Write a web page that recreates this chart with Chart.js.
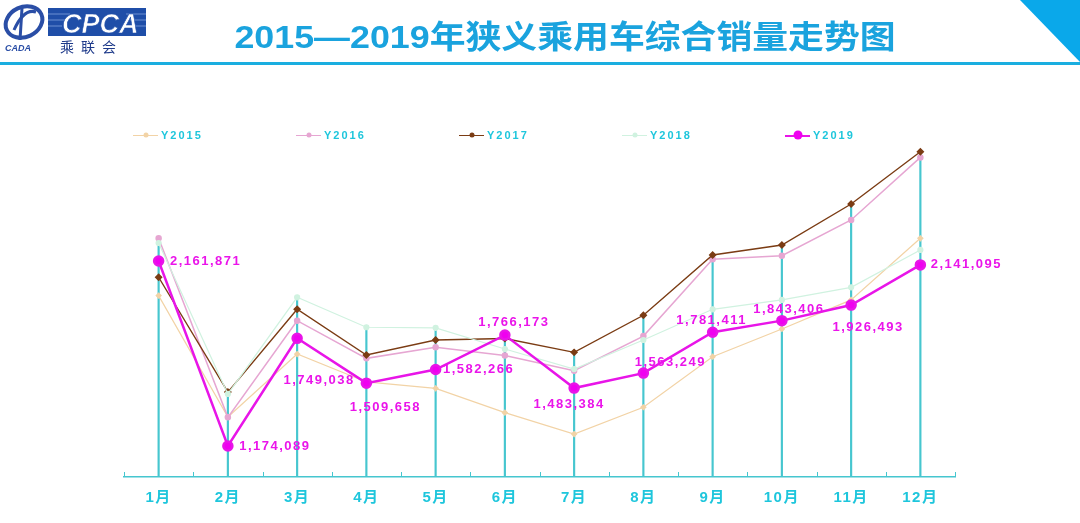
<!DOCTYPE html>
<html>
<head>
<meta charset="utf-8">
<script src="https://cdn.jsdelivr.net/npm/chart.js@4"></script>
<style>
  body { margin: 0; background: #fff; }
  .page { position: relative; width: 1080px; height: 523px; overflow: hidden; background: #fff; font-family: "Liberation Sans", Arial, sans-serif; }
  .page canvas { position: absolute; left: 0; top: 0; }
  .title { position: absolute; left: 565px; top: 11px; transform: translateX(-50%) scaleX(1.12); white-space: nowrap;
           font: bold 32px "Liberation Sans", "Noto Sans CJK SC", sans-serif; color: #1aa3de; }
  .rule { position: absolute; left: 0; top: 62px; width: 1080px; height: 3px; background: #1aaee0; }
  .corner { position: absolute; right: 0; top: 0; width: 0; height: 0; border-top: 62px solid #0aa8ea; border-left: 60px solid transparent; }
  .logo { position: absolute; left: 0; top: 0; }
  .legend { position: absolute; top: 128px; left: 133px; display: flex; }
  .legend .item { width: 163px; display: flex; align-items: center; }
  .legend .sym { position: relative; width: 25px; height: 14px; }
  .legend .sym i { position: absolute; left: 0; right: 0; top: 6.5px; height: 0; border-top: 1.5px solid; }
  .legend .sym b { position: absolute; left: 50%; top: 7px; border-radius: 50%; transform: translate(-50%, -50%); }
  .legend span { margin-left: 3px; font: bold 11px "Liberation Sans", Arial, sans-serif; letter-spacing: 2px; color: #1ec6dc; }
</style>
</head>
<body>
<div class="page">
  <canvas id="chart" width="1080" height="523"></canvas>
  <svg class="logo" width="160" height="60">
    <ellipse cx="24" cy="22" rx="19" ry="15" fill="none" stroke="#2a4ea6" stroke-width="4" transform="rotate(-25 24 22)"/>
    <path d="M14 30 Q24 8 36 12" fill="none" stroke="#2a4ea6" stroke-width="3"/>
    <path d="M22 8 L20 40" stroke="#2a4ea6" stroke-width="3"/>
    <text x="5" y="51" font-family="Liberation Sans" font-weight="bold" font-style="italic" font-size="9" fill="#2a4ea6">CADA</text>
    <rect x="48" y="8" width="98" height="28" fill="#1f4ea8"/>
    <path d="M48 14 H70 M48 20 H66 M48 26 H62 M126 14 H146 M130 20 H146 M134 26 H146" stroke="#6d8fd2" stroke-width="1"/>
    <text x="62" y="33" font-family="Liberation Sans" font-weight="bold" font-style="italic" font-size="27" fill="#fff" stroke="#1f4ea8" stroke-width="0.6">CPCA</text>
    <text x="60" y="52" font-family="Noto Sans CJK SC" font-size="14" fill="#1e3a8a" letter-spacing="7">乘联会</text>
  </svg>
  <div class="title">2015—2019年狭义乘用车综合销量走势图</div>
  <div class="rule"></div>
  <div class="corner"></div>
  <div class="legend" id="legend"></div>
</div>
<script>
const months = ['1月', '2月', '3月', '4月', '5月', '6月', '7月', '8月', '9月', '10月', '11月', '12月'];
const y2015 = [1977000, 1329000, 1665000, 1516000, 1482000, 1352000, 1238000, 1381000, 1651000, 1799000, 1954000, 2283000];
const y2016 = [2283000, 1327000, 1843000, 1642000, 1701000, 1657000, 1576000, 1761000, 2171000, 2190000, 2381000, 2715000];
const y2017 = [2075000, 1462000, 1904000, 1660000, 1740000, 1748000, 1674000, 1872000, 2194000, 2247000, 2466000, 2745000];
const y2018 = [2258000, 1452000, 1968000, 1808000, 1805000, 1692000, 1585000, 1740000, 1904000, 1954000, 2021000, 2221000];
const y2019 = [2161871, 1174089, 1749038, 1509658, 1582266, 1766173, 1483384, 1563249, 1781411, 1843406, 1926493, 2141095];

// where each Y2019 label sits relative to its point (dx, dy)
const labelShift = [[47, 0], [47, 0], [22, 42], [19, 24], [43, 0], [9, -13], [-5, 16], [27, -11], [-1, -12], [7, -11], [17, 22], [46, 0]];

const CYAN = '#46c6cf';
const seriesList = [y2015, y2016, y2017, y2018, y2019];
const dropTops = months.map((m, i) => Math.max(...seriesList.map(s => s[i])));

const lineSets = [
    { label: 'Y2015', data: y2015, borderColor: '#f2d3a6', backgroundColor: '#f2d3a6', borderWidth: 1.2, pointRadius: 2.5, pointStyle: 'rectRot' },
    { label: 'Y2016', data: y2016, borderColor: '#e6a6d2', backgroundColor: '#e6a6d2', borderWidth: 1.5, pointRadius: 2.5 },
    { label: 'Y2017', data: y2017, borderColor: '#7b3c14', backgroundColor: '#7b3c14', borderWidth: 1.4, pointRadius: 3, pointStyle: 'rectRot' },
    { label: 'Y2018', data: y2018, borderColor: '#d0f2e0', backgroundColor: '#d0f2e0', borderWidth: 1.2, pointRadius: 2.5 },
    { label: 'Y2019', data: y2019, borderColor: '#e815e8', backgroundColor: '#f000f0', borderWidth: 2.5, pointRadius: 4.5 }
];

const extras = {
    id: 'extras',
    beforeDatasetsDraw(chart) {
        const { ctx, scales: { x }, chartArea } = chart;
        ctx.save();
        ctx.strokeStyle = CYAN;
        ctx.lineWidth = 1;
        for (let i = 0; i <= months.length; i++) {
            const px = Math.round(x.getPixelForValue(i - 0.5)) + 0.5;
            ctx.beginPath();
            ctx.moveTo(px, chartArea.bottom);
            ctx.lineTo(px, chartArea.bottom - 5);
            ctx.stroke();
        }
        ctx.restore();
    },
    afterDatasetsDraw(chart) {
        const { ctx } = chart;
        const meta = chart.getDatasetMeta(5);
        ctx.save();
        ctx.font = 'bold 13px "Liberation Sans", Arial, sans-serif';
        ctx.letterSpacing = '1.5px';
        ctx.fillStyle = '#ea14ea';
        ctx.textAlign = 'center';
        ctx.textBaseline = 'middle';
        meta.data.forEach((pt, i) => {
            const [dx, dy] = labelShift[i];
            ctx.fillText(y2019[i].toLocaleString('en-US'), pt.x + dx, pt.y + dy);
        });
        ctx.restore();
    },
    beforeDraw(chart) {
        chart.ctx.letterSpacing = '1.5px';
    }
};

new Chart(document.getElementById('chart'), {
    type: 'line',
    data: {
        labels: months,
        datasets: [
            { type: 'bar', label: 'drop', data: dropTops, backgroundColor: CYAN, barThickness: 1.5, order: 10 },
            ...lineSets.map((s, i) => ({ ...s, tension: 0, order: 5 - i }))
        ]
    },
    options: {
        responsive: false,
        animation: false,
        layout: { padding: { left: 124, right: 125, top: 140, bottom: 4 } },
        plugins: { legend: { display: false }, tooltip: { enabled: false } },
        scales: {
            x: {
                offset: true,
                grid: { display: false, drawTicks: false },
                border: { color: CYAN, width: 1.5 },
                ticks: { padding: 12, color: '#1ec6dc', font: { size: 15, weight: 'bold', family: '"Liberation Sans", "Noto Sans CJK SC", sans-serif' } }
            },
            y: { display: false, min: 1008600, max: 2807800 }
        }
    },
    plugins: [extras]
});

const legend = document.getElementById('legend');
lineSets.forEach(s => {
    const item = document.createElement('div');
    item.className = 'item';
    const size = s.label === 'Y2019' ? 9 : 5;
    item.innerHTML = `<div class="sym"><i style="border-color:${s.borderColor};border-top-width:${s.label === 'Y2019' ? 2 : 1.5}px"></i>` +
        `<b style="width:${size}px;height:${size}px;background:${s.backgroundColor}"></b></div><span>${s.label}</span>`;
    legend.appendChild(item);
});
</script>
</body>
</html>
